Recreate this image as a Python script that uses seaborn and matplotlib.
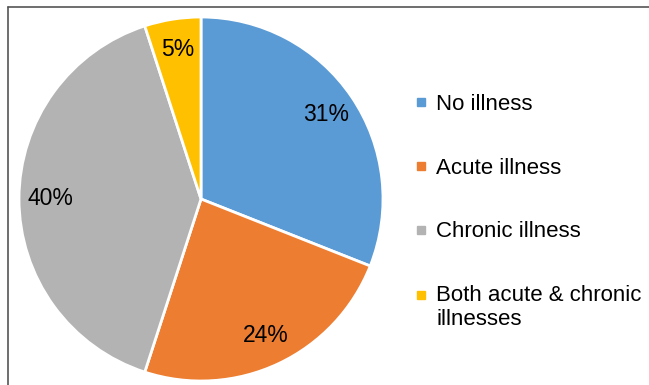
import matplotlib
matplotlib.use("Agg")
import matplotlib.pyplot as plt
from matplotlib.lines import Line2D
from matplotlib.legend_handler import HandlerLine2D
import seaborn as sns

categories = ["No illness", "Acute illness", "Chronic illness", "Both acute & chronic\nillnesses"]
values = [31, 24, 40, 5]
colors = ["#5B9BD5", "#ED7D31", "#B3B3B3", "#FFC000"]

sns.set_theme(style="white")
plt.rcParams['font.family'] = ['Liberation Sans', 'DejaVu Sans']

W, H = 649, 385
fig = plt.figure(figsize=(W / 100, H / 100), dpi=100)
fig.patch.set_facecolor("white")

cx, cy, r = 201, 199, 182
ax = fig.add_axes([(cx - r) / W, (H - cy - r) / H, 2 * r / W, 2 * r / H])
pal = sns.color_palette(colors)
wedges, texts, autotexts = ax.pie(
    values, colors=pal, startangle=90, counterclock=False,
    autopct=lambda p: f"{p:.0f}%", pctdistance=0.83,
    wedgeprops=dict(edgecolor="white", linewidth=2),
    textprops=dict(fontsize=16.5, color="black"))
ax.set_xlim(-1, 1)
ax.set_ylim(-1, 1)
ax.set_aspect("equal")
ax.axis("off")


class ShiftHandler(HandlerLine2D):
    def __init__(self, shift, **kw):
        super().__init__(**kw)
        self.shift = shift

    def create_artists(self, legend, orig_handle, xdescent, ydescent, width, height, fontsize, trans):
        return super().create_artists(legend, orig_handle, xdescent, ydescent - self.shift,
                                      width, height, fontsize, trans)


handles = [Line2D([], [], marker="s", linestyle="none", markersize=5.3,
                  markerfacecolor=c, markeredgecolor=c) for c in pal]
fig.legend(handles, categories, loc="upper left",
           bbox_to_anchor=(404 / W, 1 - 83 / H), frameon=False,
           fontsize=16, labelspacing=1.92, handlelength=0.55,
           handletextpad=0.4, borderpad=0, labelcolor="black",
           handler_map={handles[3]: ShiftHandler(19)})

# outer frame (top and left edges visible)
fig.add_artist(Line2D([8 / W, 1.0], [1 - 7 / H, 1 - 7 / H], transform=fig.transFigure,
                      color="#555555", linewidth=1.2))
fig.add_artist(Line2D([8 / W, 8 / W], [0, 1 - 7 / H], transform=fig.transFigure,
                      color="#555555", linewidth=1.2))

fig.savefig("out.png", dpi=100)
